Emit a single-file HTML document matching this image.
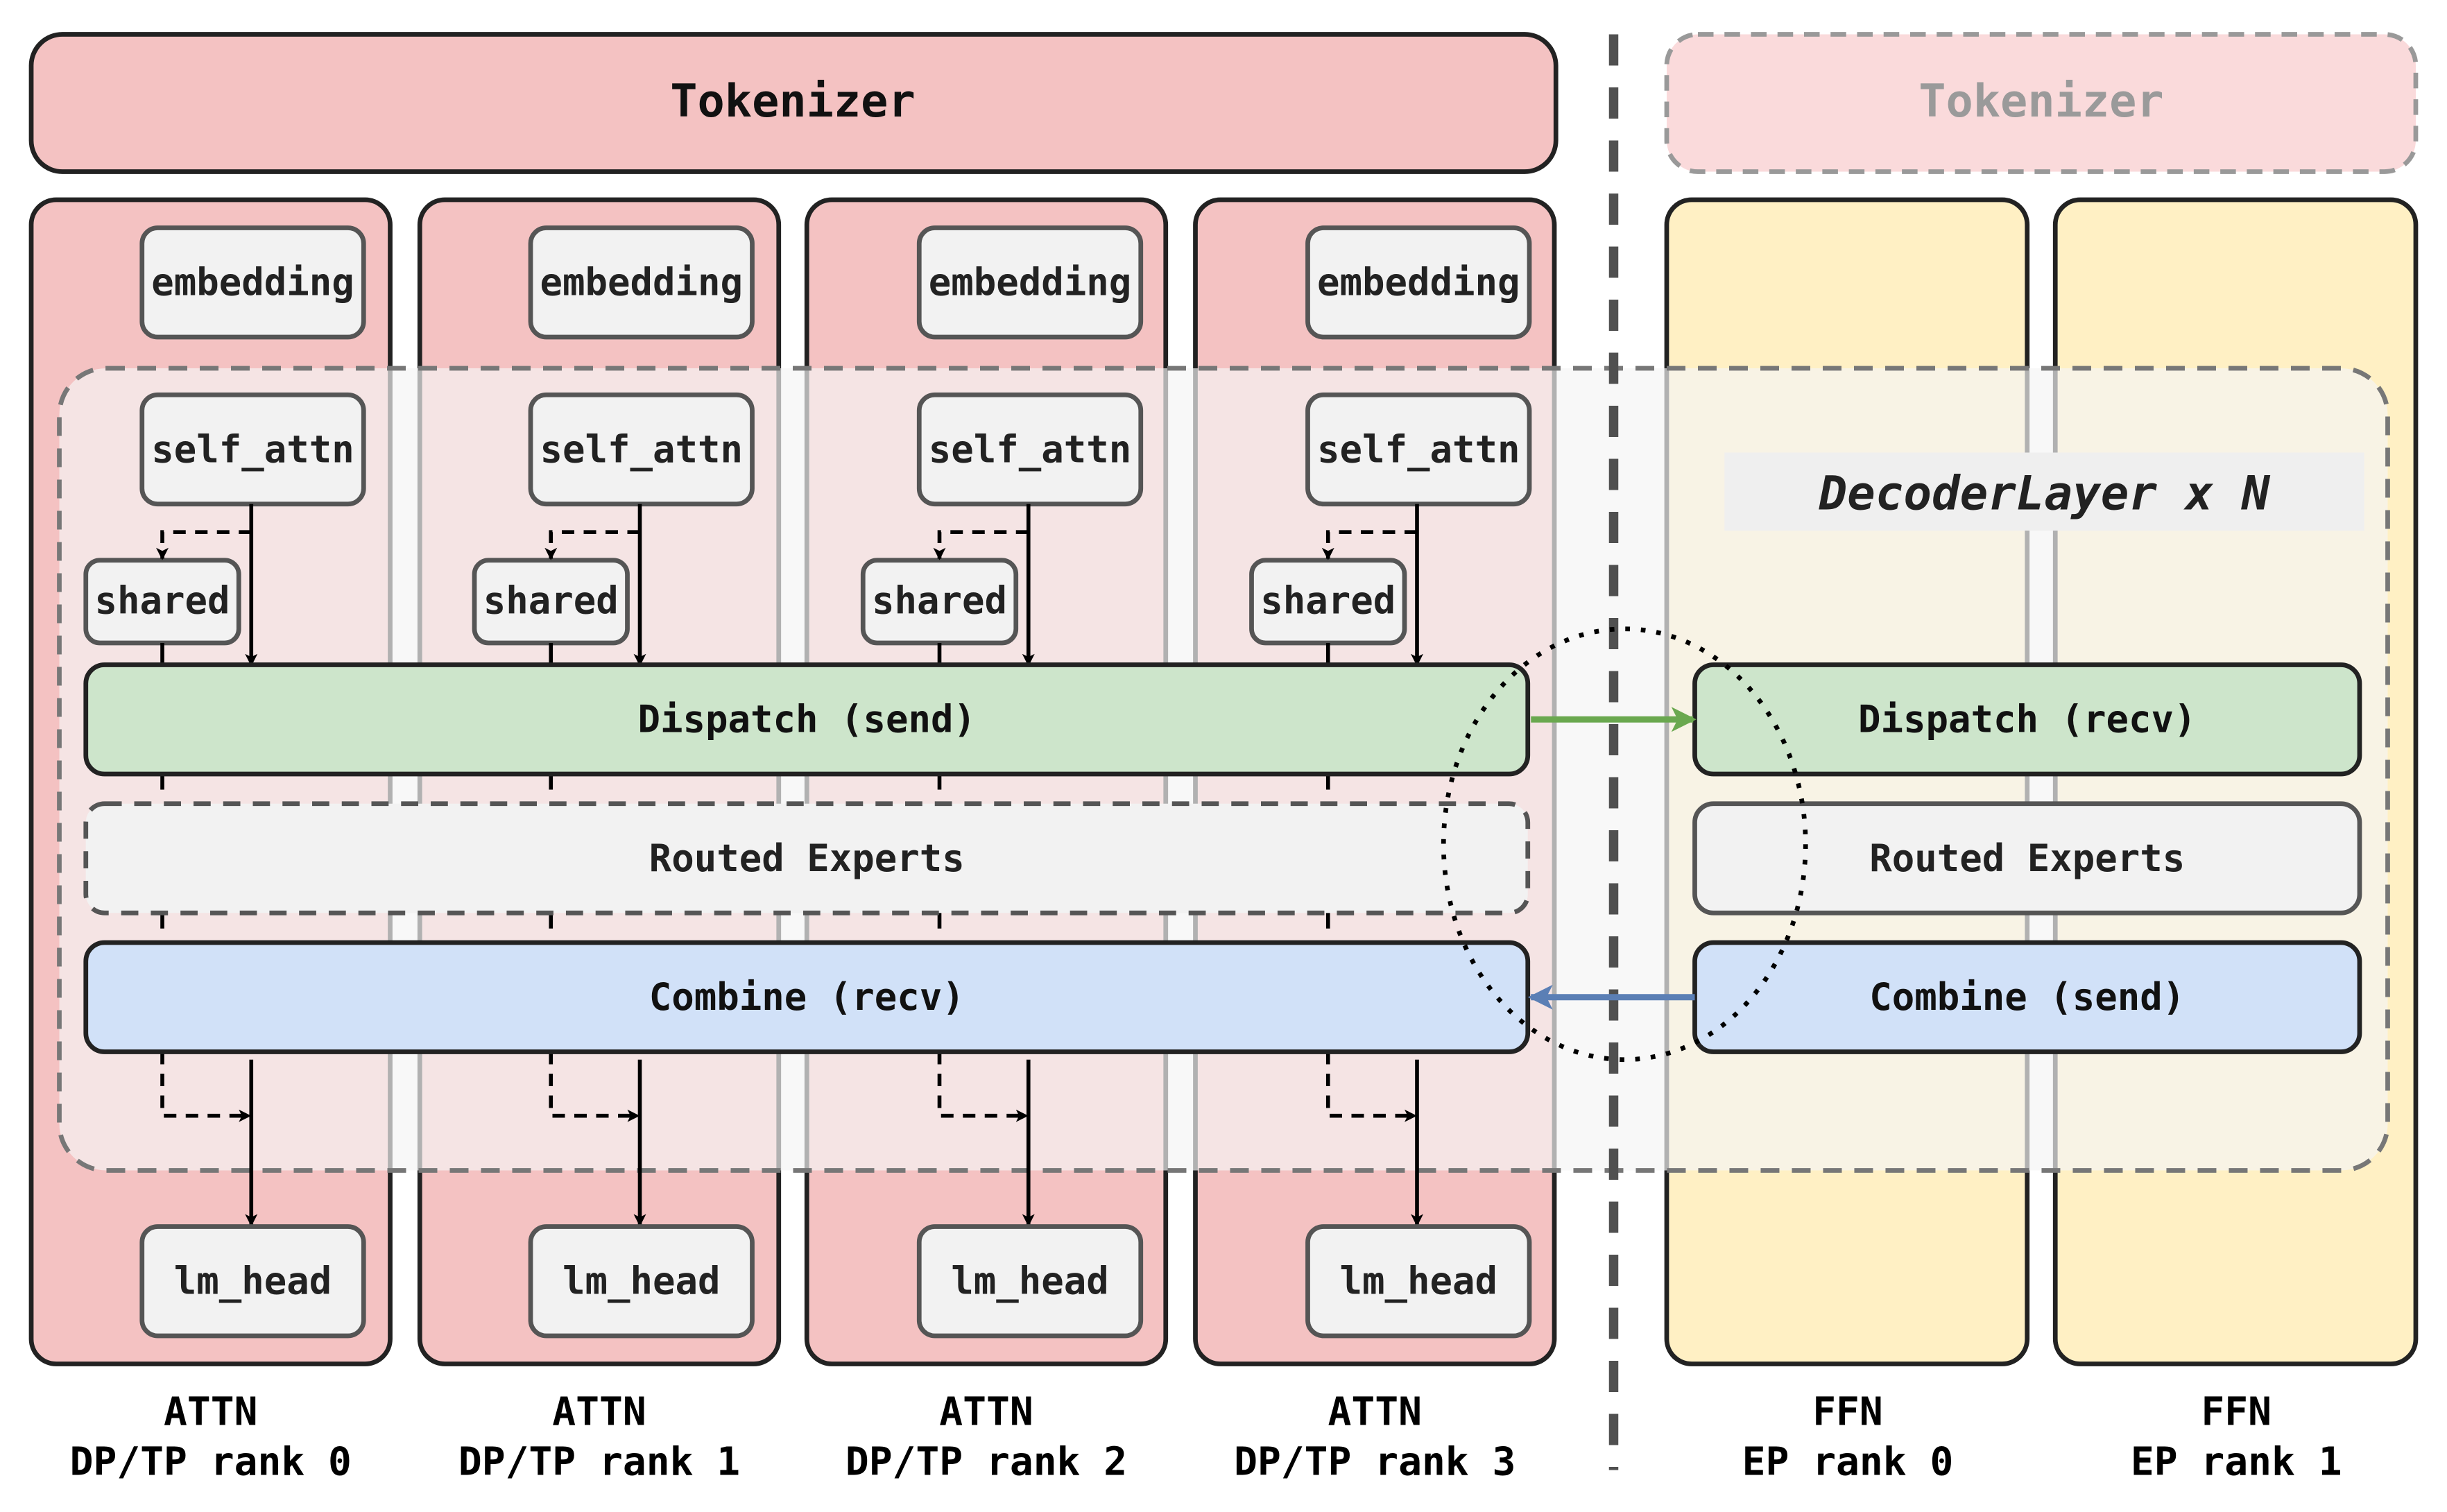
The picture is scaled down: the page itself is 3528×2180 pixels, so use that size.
<!DOCTYPE html>
<html><head><meta charset="utf-8"><style>
html,body{margin:0;padding:0;background:#fff}
svg{display:block}
text{font-family:"DejaVu Sans Mono","Liberation Mono",monospace;font-weight:bold;text-anchor:middle;dominant-baseline:central}
</style></head><body>
<svg width="3528" height="2180" viewBox="0 0 1568 968.9" xmlns="http://www.w3.org/2000/svg">
<defs>
<marker id="ab" markerWidth="8" markerHeight="8" refX="7" refY="4" orient="auto" markerUnits="userSpaceOnUse"><path d="M0,0 L8,4 L0,8 L2,4 z" fill="#000"/></marker>
<marker id="ag" markerWidth="16" markerHeight="16" refX="14" refY="8" orient="auto" markerUnits="userSpaceOnUse"><path d="M0,0 L16,8 L0,16 L4,8 z" fill="#6aa84f"/></marker>
<marker id="au" markerWidth="16" markerHeight="16" refX="14" refY="8" orient="auto" markerUnits="userSpaceOnUse"><path d="M0,0 L16,8 L0,16 L4,8 z" fill="#5b7fb5"/></marker>
</defs>
<!-- tokenizers -->
<rect x="20" y="22" width="977" height="88" rx="20" fill="#f4c2c2" stroke="#222" stroke-width="3"/>
<text x="508" y="65" font-size="29" fill="#111">Tokenizer</text>
<rect x="1068" y="22" width="480" height="88" rx="20" fill="#fadadb" stroke="#999" stroke-width="3" stroke-dasharray="10 7"/>
<text x="1308" y="65" font-size="29" fill="#9a9a9a">Tokenizer</text>
<!-- columns -->
<g fill="#f4c2c2" stroke="#222" stroke-width="3">
<rect x="20" y="128" width="230" height="746" rx="16"/>
<rect x="269" y="128" width="230" height="746" rx="16"/>
<rect x="517" y="128" width="230" height="746" rx="16"/>
<rect x="766" y="128" width="230" height="746" rx="16"/>
</g>
<g fill="#fff0c4" stroke="#222" stroke-width="3">
<rect x="1068" y="128" width="231" height="746" rx="16"/>
<rect x="1317" y="128" width="231" height="746" rx="16"/>
</g>
<!-- overlay -->
<rect x="38" y="236" width="1492" height="514" rx="30" fill="#f5f5f5" fill-opacity="0.68" stroke="#777" stroke-width="3" stroke-dasharray="12 8"/>
<rect x="1105" y="290" width="410" height="50" fill="#efefef"/>
<text x="1310" y="316" font-size="30" font-style="italic" fill="#222">DecoderLayer x N</text>
<!-- vertical divider -->
<line x1="1034" y1="22" x2="1034" y2="942" stroke="#505050" stroke-width="6" stroke-dasharray="20 14"/>
<!-- per column -->
<g id="col">
<rect x="91" y="146" width="142" height="70" rx="10" fill="#f2f2f2" stroke="#555" stroke-width="3"/>
<text x="162" y="181" font-size="24" fill="#222">embedding</text>
<rect x="91" y="253" width="142" height="70" rx="10" fill="#f2f2f2" stroke="#555" stroke-width="3"/>
<text x="162" y="288" font-size="24" fill="#222">self_attn</text>
<rect x="55" y="359" width="98" height="53" rx="9" fill="#f2f2f2" stroke="#555" stroke-width="3"/>
<text x="104" y="385" font-size="24" fill="#222">shared</text>
<line x1="161" y1="323" x2="161" y2="426" stroke="#000" stroke-width="2.5" marker-end="url(#ab)"/>
<polyline points="161,341 104,341 104,358" fill="none" stroke="#000" stroke-width="2.5" stroke-dasharray="8 6" marker-end="url(#ab)"/>
<line x1="104" y1="412" x2="104" y2="426" stroke="#000" stroke-width="2.5"/>
<line x1="104" y1="496" x2="104" y2="506" stroke="#000" stroke-width="2.5"/>
<line x1="104" y1="585" x2="104" y2="595" stroke="#000" stroke-width="2.5"/>
<polyline points="104,674 104,715 160,715" fill="none" stroke="#000" stroke-width="2.5" stroke-dasharray="8 6" marker-end="url(#ab)"/>
<line x1="161" y1="679" x2="161" y2="785" stroke="#000" stroke-width="2.5" marker-end="url(#ab)"/>
<rect x="91" y="786" width="142" height="70" rx="10" fill="#f2f2f2" stroke="#555" stroke-width="3"/>
<text x="162" y="821" font-size="24" fill="#222">lm_head</text>
</g>
<g transform="translate(249,0)">
<rect x="91" y="146" width="142" height="70" rx="10" fill="#f2f2f2" stroke="#555" stroke-width="3"/><text x="162" y="181" font-size="24" fill="#222">embedding</text>
<rect x="91" y="253" width="142" height="70" rx="10" fill="#f2f2f2" stroke="#555" stroke-width="3"/><text x="162" y="288" font-size="24" fill="#222">self_attn</text>
<rect x="55" y="359" width="98" height="53" rx="9" fill="#f2f2f2" stroke="#555" stroke-width="3"/><text x="104" y="385" font-size="24" fill="#222">shared</text>
<line x1="161" y1="323" x2="161" y2="426" stroke="#000" stroke-width="2.5" marker-end="url(#ab)"/>
<polyline points="161,341 104,341 104,358" fill="none" stroke="#000" stroke-width="2.5" stroke-dasharray="8 6" marker-end="url(#ab)"/>
<line x1="104" y1="412" x2="104" y2="426" stroke="#000" stroke-width="2.5"/><line x1="104" y1="496" x2="104" y2="506" stroke="#000" stroke-width="2.5"/><line x1="104" y1="585" x2="104" y2="595" stroke="#000" stroke-width="2.5"/>
<polyline points="104,674 104,715 160,715" fill="none" stroke="#000" stroke-width="2.5" stroke-dasharray="8 6" marker-end="url(#ab)"/>
<line x1="161" y1="679" x2="161" y2="785" stroke="#000" stroke-width="2.5" marker-end="url(#ab)"/>
<rect x="91" y="786" width="142" height="70" rx="10" fill="#f2f2f2" stroke="#555" stroke-width="3"/><text x="162" y="821" font-size="24" fill="#222">lm_head</text>
</g>
<g transform="translate(498,0)">
<rect x="91" y="146" width="142" height="70" rx="10" fill="#f2f2f2" stroke="#555" stroke-width="3"/><text x="162" y="181" font-size="24" fill="#222">embedding</text>
<rect x="91" y="253" width="142" height="70" rx="10" fill="#f2f2f2" stroke="#555" stroke-width="3"/><text x="162" y="288" font-size="24" fill="#222">self_attn</text>
<rect x="55" y="359" width="98" height="53" rx="9" fill="#f2f2f2" stroke="#555" stroke-width="3"/><text x="104" y="385" font-size="24" fill="#222">shared</text>
<line x1="161" y1="323" x2="161" y2="426" stroke="#000" stroke-width="2.5" marker-end="url(#ab)"/>
<polyline points="161,341 104,341 104,358" fill="none" stroke="#000" stroke-width="2.5" stroke-dasharray="8 6" marker-end="url(#ab)"/>
<line x1="104" y1="412" x2="104" y2="426" stroke="#000" stroke-width="2.5"/><line x1="104" y1="496" x2="104" y2="506" stroke="#000" stroke-width="2.5"/><line x1="104" y1="585" x2="104" y2="595" stroke="#000" stroke-width="2.5"/>
<polyline points="104,674 104,715 160,715" fill="none" stroke="#000" stroke-width="2.5" stroke-dasharray="8 6" marker-end="url(#ab)"/>
<line x1="161" y1="679" x2="161" y2="785" stroke="#000" stroke-width="2.5" marker-end="url(#ab)"/>
<rect x="91" y="786" width="142" height="70" rx="10" fill="#f2f2f2" stroke="#555" stroke-width="3"/><text x="162" y="821" font-size="24" fill="#222">lm_head</text>
</g>
<g transform="translate(747,0)">
<rect x="91" y="146" width="142" height="70" rx="10" fill="#f2f2f2" stroke="#555" stroke-width="3"/><text x="162" y="181" font-size="24" fill="#222">embedding</text>
<rect x="91" y="253" width="142" height="70" rx="10" fill="#f2f2f2" stroke="#555" stroke-width="3"/><text x="162" y="288" font-size="24" fill="#222">self_attn</text>
<rect x="55" y="359" width="98" height="53" rx="9" fill="#f2f2f2" stroke="#555" stroke-width="3"/><text x="104" y="385" font-size="24" fill="#222">shared</text>
<line x1="161" y1="323" x2="161" y2="426" stroke="#000" stroke-width="2.5" marker-end="url(#ab)"/>
<polyline points="161,341 104,341 104,358" fill="none" stroke="#000" stroke-width="2.5" stroke-dasharray="8 6" marker-end="url(#ab)"/>
<line x1="104" y1="412" x2="104" y2="426" stroke="#000" stroke-width="2.5"/><line x1="104" y1="496" x2="104" y2="506" stroke="#000" stroke-width="2.5"/><line x1="104" y1="585" x2="104" y2="595" stroke="#000" stroke-width="2.5"/>
<polyline points="104,674 104,715 160,715" fill="none" stroke="#000" stroke-width="2.5" stroke-dasharray="8 6" marker-end="url(#ab)"/>
<line x1="161" y1="679" x2="161" y2="785" stroke="#000" stroke-width="2.5" marker-end="url(#ab)"/>
<rect x="91" y="786" width="142" height="70" rx="10" fill="#f2f2f2" stroke="#555" stroke-width="3"/><text x="162" y="821" font-size="24" fill="#222">lm_head</text>
</g>
<!-- wide bars -->
<rect x="55" y="426" width="924" height="70" rx="12" fill="#cde5cb" stroke="#222" stroke-width="3"/>
<text x="517" y="461" font-size="24" fill="#111">Dispatch (send)</text>
<rect x="55" y="515" width="924" height="70" rx="12" fill="#f2f2f2" stroke="#555" stroke-width="3" stroke-dasharray="11 8"/>
<text x="517" y="550" font-size="24" fill="#222">Routed Experts</text>
<rect x="55" y="604" width="924" height="70" rx="12" fill="#d1e1f8" stroke="#222" stroke-width="3"/>
<text x="517" y="639" font-size="24" fill="#111">Combine (recv)</text>
<rect x="1086" y="426" width="426" height="70" rx="12" fill="#cde5cb" stroke="#222" stroke-width="3"/>
<text x="1299" y="461" font-size="24" fill="#111">Dispatch (recv)</text>
<rect x="1086" y="515" width="426" height="70" rx="12" fill="#f2f2f2" stroke="#555" stroke-width="3"/>
<text x="1299" y="550" font-size="24" fill="#222">Routed Experts</text>
<rect x="1086" y="604" width="426" height="70" rx="12" fill="#d1e1f8" stroke="#222" stroke-width="3"/>
<text x="1299" y="639" font-size="24" fill="#111">Combine (send)</text>
<!-- cross arrows -->
<line x1="981" y1="461" x2="1085" y2="461" stroke="#6aa84f" stroke-width="4" marker-end="url(#ag)"/>
<line x1="1086" y1="639" x2="981" y2="639" stroke="#5b7fb5" stroke-width="4" marker-end="url(#au)"/>
<ellipse cx="1041" cy="541" rx="116" ry="138" fill="none" stroke="#000" stroke-width="3" stroke-dasharray="3 7"/>
<!-- labels -->
<g font-size="25" fill="#000">
<text x="135" y="905">ATTN</text><text x="135" y="937">DP/TP rank 0</text>
<text x="384" y="905">ATTN</text><text x="384" y="937">DP/TP rank 1</text>
<text x="632" y="905">ATTN</text><text x="632" y="937">DP/TP rank 2</text>
<text x="881" y="905">ATTN</text><text x="881" y="937">DP/TP rank 3</text>
<text x="1184" y="905">FFN</text><text x="1184" y="937">EP rank 0</text>
<text x="1433" y="905">FFN</text><text x="1433" y="937">EP rank 1</text>
</g>
</svg>
</body></html>
